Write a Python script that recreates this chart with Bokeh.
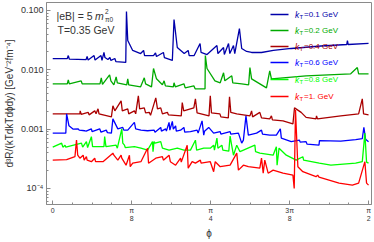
import numpy as np
from bokeh.plotting import figure
from bokeh.models import Range1d, FixedTicker, Label, BoxAnnotation
from bokeh.embed import file_html
from bokeh.resources import INLINE

# ---------------- data (phi in rad, rate in GeV^-2 fm^-4) ----------------
phi_01 = [0, .0724, .0774, .0823, .166, .171, .176, .2055, .2104, .240,
          .2449, .2547, .2597, .2744, .2843, .2892, .3089, .3138, .3631, .3666,
          .373, .3976, .437, .4518, .4567, .501, .511, .5159, .5503, .5553,
          .5947, .6031, .6193, .6538, .6735, .6785, .7031, .7326, .7376, .7671,
          .8164, .8213, .8494, .8533, .8741, .8805, .8987, .9051, .9282, .9396,
          .9642, .9888, 1.0381, 1.0972, 1.1859, 1.2598, 1.3337, 1.4618, 1.4653, 1.4692,
          1.5703]
R_01 = [.0155, .0155, .0174, .0152, .0149, .0168, .0146, .0174, .0146, .0174,
        .0144, .0196, .0161, .0149, .0161, .0144, .0155, .0138, .0133, .0962,
        .0312, .0212, .0188, .0212, .0174, .0174, .0192, .0168, .0196, .0161,
        .0144, .0705, .0238, .0188, .0212, .0174, .0174, .0278, .0196, .0181,
        .0257, .0188, .0238, .0181, .0278, .0188, .0257, .0188, .0497, .0229,
        .0204, .0196, .0196, .0212, .0229, .0240, .0252, .0267, .0312, .0267,
        .0280]

phi_02 = [0, .0724, .0774, .0823, .1414, .1463, .235, .2414, .2473, .2828,
          .2892, .304, .3153, .3212, .368, .373, .3779, .437, .4552, .4617,
          .4912, .5011, .5159, .5454, .5538, .5602, .5996, .6031, .6095, .6523,
          .6587, .7016, .708, .7573, .7588, .7671, .8065, .8327, .8494, .8558,
          .8903, .8952, .9396, .9741, .9805, .9888, 1.0628, 1.079, 1.0874, 1.2598,
          1.4815, 1.5146, 1.521, 1.5703]
R_02 = [.00581, .00581, .00678, .00581, .00652, .00581, .00581, .00733, .0057, .00824,
        .00652, .00559, .00762, .00604, .00559, .00705, .00559, .00517, .00733, .00581,
        .00517, .01052, .00705, .00559, .00652, .00537, .00517, .00604, .00517, .00581,
        .00497, .00537, .00478, .00478, .01742, .01052, .00652, .00604, .0089, .00652,
        .00792, .00604, .00581, .00559, .01094, .00705, .00497, .00962, .00705, .00792,
        .00856, .01094, .00856, .00856]

phi_04 = [0, .135, .1365, .1414, .1759, .1808, .2089, .2153, .2252, .2301,
          .2917, .2991, .3089, .34, .3459, .373, .3779, .406, .4124, .4257,
          .4321, .4552, .4617, .4799, .4863, .5124, .5208, .537, .5454, .57,
          .575, .639, .644, .6513, .7016, .7095, .7178, .777, .7834, .7893,
          .8312, .8361, .873, .879, .8854, .915, .9805, .9888, .9938, 1.0297,
          1.0381, 1.079, 1.0874, 1.0923, 1.145, 1.1943, 1.2022, 1.2352, 1.2598, 1.3091,
          1.3116, 1.3165, 1.4323, 1.521, 1.5392, 1.5456, 1.5703]
R_04 = [.001811, .001811, .002035, .00178, .00192, .001742, .002035, .001811, .0022, .001811,
        .001612, .002472, .002035, .003001, .002035, .0022, .001811, .002035, .001811, .003644,
        .0022, .002287, .001883, .00192, .00171, .003372, .0022, .002287, .001811, .00192,
        .001742, .001676, .00281, .002035, .002287, .003243, .001883, .001676, .003644, .001883,
        .001811, .001612, .001551, .003505, .00192, .001811, .001676, .002035, .001612, .00192,
        .001551, .001492, .001676, .001435, .00138, .001229, .002287, .00192, .00158, .001492,
        .001676, .001492, .001676, .001811, .003243, .001811, .001742]

phi_06 = [0, .065, .069, .0808, .102, .1266, .1316, .1596, .166, .1922,
          .1956, .2335, .24, .2661, .272, .2917, .2991, .3237, .3483, .3533,
          .373, .406, .4124, .4385, .4715, .5045, .5085, .537, .5405, .5617,
          .5651, .5784, .5824, .5947, .5996, .611, .6144, .6356, .6523, .6563,
          .6848, .7178, .7228, .7425, .7509, .7548, .7755, .8001, .8327, .8361,
          .8819, .8854, .9233, .9396, .948, .9608, .9726, 1.0135, 1.0381, 1.043,
          1.079, 1.112, 1.1317, 1.1367, 1.1859, 1.2268, 1.2303, 1.2598, 1.2647, 1.3239,
          1.3263, 1.4323, 1.5062, 1.5392, 1.5471, 1.5555, 1.5703]
R_06 = [.000856, .000856, .001811, .001137, .001, .001012, .000962, .00094, .000925, .001012,
        .00091, .001012, .00089, .000962, .000873, .000856, .001492, .001012, .00107, .000962,
        .000962, .0013, .001012, .000962, .00094, .000962, .00089, .00107, .000925, .001012,
        .000925, .0013, .000962, .00135, .001, .001137, .000925, .000962, .00107, .00089,
        .00091, .000962, .000856, .00138, .000792, .000925, .00107, .000856, .00091, .000824,
        .00091, .000824, .000856, .000581, .000652, .001676, .000792, .000856, .000962, .000824,
        .000792, .000792, .001012, .000705, .000616, .000652, .000604, .000616, .000559, .000537,
        .00064, .000628, .000665, .00069, .00107, .000678, .000616]

phi_08 = [0, .0443, .0503, .0611, .065, .1429, .1488, .1675, .1734, .1922,
          .1981, .2547, .2582, .2646, .3153, .3212, .3434, .3483, .3567, .3607,
          .406, .4385, .4715, .4962, .4986, .5035, .5085, .537, .5454, .5784,
          .6193, .6523, .6848, .7095, .7154, .7509, .7834, .8001, .8041, .8164,
          .8213, .841, .846, .8755, .8819, .8878, .8987, .915, .9312, 1.0051,
          1.0085, 1.0297, 1.0958, 1.112, 1.1155, 1.1253, 1.1613, 1.2106, 1.2436, 1.2475,
          1.3254, 1.383, 1.5062, 1.5392, 1.552, 1.5604, 1.5703]
R_08 = [.000497, .000581, .000497, .000537, .000497, .000581, .000497, .000616, .00049, .000747,
        .000507, .000507, .000747, .000507, .000537, .000478, .001012, .000581, .000537, .00049,
        .000507, .000478, .000443, .000616, .000417, .000616, .000581, .000616, .000478, .000443,
        .000478, .000443, .000443, .000652, .000443, .000478, .000478, .000537, .000443, .000705,
        .000478, .000537, .000443, .000426, .000762, .000581, .000364, .000537, .000417, .000537,
        .000417, .000394, .000364, .000507, .000247, .000478, .000364, .0003, .000343, .0003,
        .000267, .000247, .000267, .000283, .000856, .000278, .000267]

phi_10 = [0, .069, .1104, .1182, .1242, .135, .1513, .1562, .1675, .171,
          .1922, .2089, .2128, .2498, .2991, .304, .3237, .34, .3434, .3646,
          .3813, .3853, .3976, .4385, .4715, .4764, .5124, .5454, .5503, .5784,
          .5848, .611, .6356, .639, .6686, .6735, .6932, .7095, .7341, .7376,
          .7834, .8001, .808, .8327, .8819, .915, .9233, .948, .9726, 1.0297,
          1.0381, 1.0465, 1.0544, 1.0711, 1.0958, 1.145, 1.1943, 1.2007, 1.2071, 1.2189,
          1.2436, 1.3091, 1.3175, 1.3239, 1.4239, 1.4899, 1.521, 1.552, 1.5604, 1.5703]
R_10 = [.0003, .000306, .000343, .000652, .000364, .000324, .000364, .0003, .000343, .0003,
        .000283, .000324, .000283, .000283, .000394, .000364, .0003, .000364, .000324, .000247,
        .000364, .000233, .000267, .000283, .000478, .000267, .000324, .000343, .0003, .000364,
        .000283, .000247, .000324, .000278, .000537, .00022, .000283, .000267, .0003, .000267,
        .000283, .000192, .000283, .000233, .000247, .000394, .000204, .000247, .000233, .00022,
        .000324, .000181, .0003, .000181, .000204, .000181, .000168, .0001, .0021, .000233,
        .000192, .000158, .000168, .000155, .000123, .000114, .000123, .000283, .000123, .000114]

series_labels = ["=0.1 GeV", "=0.2 GeV", "=0.4 GeV", "=0.6 GeV", "=0.8 GeV", "=1. GeV"]
series_colors = ["#0000aa", "#00aa00", "#aa0000", "#0000ff", "#00ff00", "#ff0000"]
series_phi = [phi_01, phi_02, phi_04, phi_06, phi_08, phi_10]
series_R = [R_01, R_02, R_04, R_06, R_08, R_10]

x_major = [0, np.pi / 8, np.pi / 4, 3 * np.pi / 8, np.pi / 2]
x_major_labels = ["0", "π\n8", "π\n4", "3π\n8", "π\n2"]
y_major = [1e-4, 1e-3, 1e-2, 1e-1]
y_major_labels = ["10⁻⁴", "0.001", "0.010", "0.100"]

FONT = "Liberation Sans"
AX = "#8a8a8a"
TXT = "#333333"

p = figure(width=374, height=242, y_axis_type="log",
           x_range=Range1d(-0.031, 1.585), y_range=Range1d(5.37e-5, 0.1364),
           output_backend="svg", toolbar_location=None,
           min_border_left=43, min_border_right=3, min_border_top=2, min_border_bottom=38)
p.grid.visible = False
p.outline_line_color = AX
p.background_fill_color = "white"
p.border_fill_color = "white"

for ph, rr, c in zip(series_phi, series_R, series_colors):
    p.line(ph, rr, line_color=c, line_width=1.3)

# x axis
p.xaxis.ticker = FixedTicker(ticks=x_major, minor_ticks=[k * np.pi / 32 for k in range(17)])
p.xaxis.major_label_overrides = {t: s for t, s in zip(x_major, x_major_labels)}
p.xaxis.major_label_text_font_size = "7px"
p.xaxis.major_label_text_font = FONT
p.xaxis.major_label_text_color = TXT
p.xaxis.major_label_standoff = 2
p.xaxis.axis_label = "ϕ"
p.xaxis.axis_label_text_font_size = "10px"
p.xaxis.axis_label_text_font_style = "normal"
p.xaxis.axis_label_text_font = FONT
p.xaxis.axis_label_text_color = TXT
p.xaxis.axis_label_standoff = 3

# y axis
p.yaxis.ticker = FixedTicker(ticks=y_major,
                             minor_ticks=[m * 10.0 ** e for e in range(-5, 0) for m in range(2, 10)])
p.yaxis.major_label_overrides = {t: s for t, s in zip(y_major, y_major_labels)}
p.yaxis.major_label_text_font_size = "9px"
p.yaxis.major_label_text_font = FONT
p.yaxis.major_label_text_color = TXT
p.yaxis.major_label_standoff = 3
p.yaxis.axis_label = "d³R/(kTdkTdϕdy) [GeV⁻²fm⁻⁴]"
p.yaxis.axis_label_text_font_size = "10px"
p.yaxis.axis_label_text_font_style = "normal"
p.yaxis.axis_label_text_font = FONT
p.yaxis.axis_label_text_color = TXT
p.yaxis.axis_label_standoff = 3

for ax in (p.xaxis[0], p.yaxis[0]):
    ax.axis_line_color = AX
    ax.major_tick_line_color = AX
    ax.minor_tick_line_color = AX
    ax.major_tick_in = 4
    ax.major_tick_out = 0
    ax.minor_tick_in = 2
    ax.minor_tick_out = 0

# frame origin in page px: left 43, bottom 204
def S(px, py):
    return px - 43, 204 - py

def lab(px, py, text, size, color=TXT, style="normal"):
    sx, sy = S(px, py)
    p.add_layout(Label(x=sx, y=sy, x_units="screen", y_units="screen", text=text,
                       text_font=FONT, text_font_size=size, text_font_style=style,
                       text_color=color, text_baseline="middle", text_align="left"))

# legend (manual, per-entry coloured text)
leg_y = [14, 30, 46, 62, 79, 96]
for yy, c, t in zip(leg_y, series_colors, series_labels):
    l, b = S(267, yy + 0.8)
    r, tp = S(285, yy - 0.8)
    p.add_layout(BoxAnnotation(left=l, right=r, bottom=b, top=tp,
                               left_units="screen", right_units="screen",
                               bottom_units="screen", top_units="screen",
                               fill_color=c, fill_alpha=1.0, line_color=None))
    lab(291.5, yy, "k", "8.5px", c, "italic")
    lab(296, yy + 2.5, "T", "6px", c)
    lab(300.5, yy, t, "8px", c)

# annotations
lab(53, 15, "|eB| = 5", "10.5px")
lab(91.5, 15, "m", "10.5px", style="italic")
lab(101.5, 11, "2", "6.5px")
lab(101.5, 18.5, "π0", "6.5px")
lab(54, 29, "T=0.35 GeV", "10.5px")

open("out.html", "w").write(file_html(p, INLINE))
